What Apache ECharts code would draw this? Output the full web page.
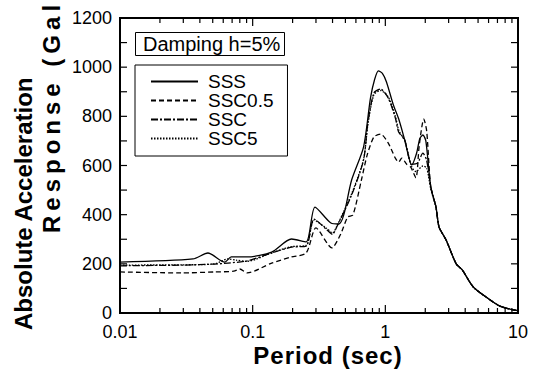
<!DOCTYPE html>
<html>
<head>
<meta charset="utf-8">
<script src="https://cdn.jsdelivr.net/npm/echarts@6/dist/echarts.min.js"></script>
<style>
  html, body { margin: 0; padding: 0; background: #fff; }
  #chart { width: 537px; height: 370px; }
</style>
</head>
<body>
<div id="chart"></div>
<script>
// spectra (period in sec, acceleration in Gal)
var periodsSSS = [0.01, 0.0355, 0.046, 0.0616, 0.069, 0.091, 0.139, 0.196, 0.253, 0.295, 0.389, 0.446, 0.486, 0.557, 0.685, 0.773, 0.83, 0.887, 0.95, 1.02, 1.15, 1.26, 1.4, 1.58, 1.72, 1.82, 1.92, 2.02, 2.2, 2.41, 2.54, 2.87, 3.42, 3.8, 4.6, 6.1, 7.3, 9, 10];
var accelSSS   = [207, 220, 244, 207, 228, 228, 248, 301, 289, 431, 366, 362, 399, 541, 675, 875, 950, 985, 975, 940, 846, 790, 704, 602, 650, 710, 724, 700, 513, 431, 350, 297, 200, 175, 106, 55, 28, 14, 10];

var periodsSSC05 = [0.01, 0.029, 0.0518, 0.072, 0.08, 0.091, 0.139, 0.196, 0.253, 0.3, 0.395, 0.46, 0.52, 0.57, 0.66, 0.73, 0.82, 0.92, 1.05, 1.19, 1.26, 1.33, 1.45, 1.55, 1.7, 1.8, 1.95, 2.05, 2.2, 2.41, 2.54, 2.87, 3.42, 3.8, 4.6, 6.1, 7.3, 9, 10];
var accelSSC05   = [167, 163, 167, 170, 179, 163, 203, 228, 244, 346, 265, 320, 390, 399, 541, 643, 716, 728, 692, 630, 614, 630, 605, 594, 550, 680, 789, 740, 513, 431, 350, 297, 200, 175, 106, 55, 28, 14, 10];

var periodsSSC = [0.01, 0.03, 0.0518, 0.065, 0.091, 0.139, 0.196, 0.253, 0.29, 0.36, 0.4, 0.43, 0.557, 0.685, 0.74, 0.82, 0.92, 1.05, 1.19, 1.26, 1.4, 1.58, 1.75, 1.92, 2.05, 2.2, 2.41, 2.54, 2.87, 3.42, 3.8, 4.6, 6.1, 7.3, 9, 10];
var accelSSC   = [192, 195, 199, 203, 212, 244, 268, 272, 382, 340, 320, 350, 480, 622, 777, 895, 911, 875, 793, 736, 704, 605, 610, 650, 620, 513, 431, 350, 297, 200, 175, 106, 55, 28, 14, 10];

var periodsSSC5 = [0.01, 0.03, 0.0518, 0.065, 0.075, 0.091, 0.139, 0.196, 0.253, 0.29, 0.36, 0.4, 0.43, 0.557, 0.685, 0.74, 0.82, 0.92, 1.05, 1.19, 1.26, 1.4, 1.58, 1.7, 1.92, 2.05, 2.2, 2.41, 2.54, 2.87, 3.42, 3.8, 4.6, 6.1, 7.3, 9, 10];
var accelSSC5   = [195, 196, 200, 220, 215, 210, 245, 270, 275, 378, 345, 325, 352, 485, 625, 770, 888, 905, 880, 800, 745, 700, 595, 575, 598, 590, 505, 428, 350, 297, 200, 175, 106, 55, 28, 14, 10];

var seriesNames = ['SSS', 'SSC0.5', 'SSC', 'SSC5'];
var majorPeriods = [0.01, 0.1, 1, 10];
var minorPeriods = [0.02, 0.03, 0.04, 0.05, 0.06, 0.07, 0.08, 0.09,
                    0.2, 0.3, 0.4, 0.5, 0.6, 0.7, 0.8, 0.9,
                    2, 3, 4, 5, 6, 7, 8, 9];
var accelTicks = [0, 100, 200, 300, 400, 500, 600, 700, 800, 900, 1000, 1100, 1200];

var FONT = '"Liberation Sans", Arial, Helvetica, sans-serif';

function zip(xs, ys) {
    var out = [];
    for (var i = 0; i < xs.length; i++) {
        out.push([xs[i], ys[i]]);
    }
    return out;
}

function column(vals) {
    var out = [];
    for (var i = 0; i < vals.length; i++) {
        out.push([vals[i]]);
    }
    return out;
}

function tickLine(x1, y1, x2, y2) {
    return { type: 'line', shape: { x1: x1, y1: y1, x2: x2, y2: y2 },
             style: { stroke: '#000', lineWidth: 1.2 } };
}

// inward period ticks on the bottom and top edges of the plot
function renderPeriodTick(params, api) {
    var v = api.value(0);
    var len = majorPeriods.indexOf(v) >= 0 ? 8 : 5;
    var cs = params.coordSys;
    var x = api.coord([v, 600])[0];
    var bottom = cs.y + cs.height, top = cs.y;
    return { type: 'group', children: [
        tickLine(x, bottom, x, bottom - len),
        tickLine(x, top, x, top + len)
    ] };
}

// inward acceleration ticks on the left and right edges
function renderAccelTick(params, api) {
    var v = api.value(0);
    var cs = params.coordSys;
    var y = api.coord([1, v])[1];
    var left = cs.x, right = cs.x + cs.width;
    return { type: 'group', children: [
        tickLine(left, y, left + 7, y),
        tickLine(right, y, right - 7, y)
    ] };
}

function lineSeries(name, data, type) {
    return {
        name: name,
        type: 'line',
        data: data,
        showSymbol: false,
        symbol: 'none',
        smooth: 0.25,
        lineStyle: { color: '#000', width: 1.3, type: type },
        itemStyle: { color: '#000' },
        emphasis: { disabled: true }
    };
}

var chart = echarts.init(document.getElementById('chart'), null, { renderer: 'svg' });
chart.setOption({
    animation: false,
    grid: { left: 120, right: 19, top: 18, bottom: 57, show: true,
            borderColor: '#000', borderWidth: 2, backgroundColor: 'transparent' },
    title: {
        text: 'Damping h=5%',
        left: 135, top: 32,
        padding: [2, 4, 2, 8],
        borderColor: '#000', borderWidth: 1,
        textStyle: { color: '#000', fontSize: 20, fontWeight: 'normal', fontFamily: FONT }
    },
    legend: {
        data: seriesNames,
        orient: 'vertical',
        left: 135, top: 65,
        padding: [7, 14, 8, 15],
        borderColor: '#000', borderWidth: 1,
        itemWidth: 47, itemHeight: 14, itemGap: 0,
        selectedMode: false,
        itemStyle: { opacity: 0 },
        textStyle: { color: '#000', fontSize: 19, fontFamily: FONT, padding: [0, 0, 0, 5] }
    },
    xAxis: {
        type: 'log', logBase: 10, min: 0.01, max: 10,
        axisLine: { show: true, onZero: false, lineStyle: { color: '#000', width: 2 } },
        axisTick: { show: false },
        axisLabel: { customValues: majorPeriods, margin: 10, color: '#000', fontSize: 18, fontFamily: FONT,
                     formatter: function(v) { return String(v); } },
        splitLine: { show: false },
        minorTick: { show: false }
    },
    yAxis: {
        type: 'value', min: 0, max: 1200, interval: 100,
        axisLine: { show: true, onZero: false, lineStyle: { color: '#000', width: 2 } },
        axisTick: { show: false },
        axisLabel: { color: '#000', fontSize: 18, margin: 8, fontFamily: FONT,
                     formatter: function(v) { return v % 200 === 0 ? String(v) : ''; } },
        splitLine: { show: false }
    },
    graphic: [{
        type: 'text', x: 23, y: 330, rotation: Math.PI / 2,
        style: { text: 'Absolute Acceleration', fill: '#000', font: 'bold 24px ' + FONT,
                 textAlign: 'left', textVerticalAlign: 'middle' }
    }, {
        type: 'text', x: 51, y: 233, rotation: Math.PI / 2,
        style: { text: 'Response (Gal)', fill: '#000', font: 'bold 24px ' + FONT,
                 textAlign: 'left', textVerticalAlign: 'middle' }
    }, {
        type: 'text', x: 328, y: 355,
        style: { text: 'Period (sec)', fill: '#000', font: 'bold 24px ' + FONT,
                 textAlign: 'center', textVerticalAlign: 'middle' }
    }],
    series: [
        lineSeries('SSS', zip(periodsSSS, accelSSS), 'solid'),
        lineSeries('SSC0.5', zip(periodsSSC05, accelSSC05), [5, 3]),
        lineSeries('SSC', zip(periodsSSC, accelSSC), [7, 2, 2, 2]),
        lineSeries('SSC5', zip(periodsSSC5, accelSSC5), [1.5, 1.5]),
        { type: 'custom', name: 'periodTicks', data: column(majorPeriods.concat(minorPeriods)),
          encode: { x: 0 }, renderItem: renderPeriodTick, clip: false, silent: true, z: 5 },
        { type: 'custom', name: 'accelTicks', data: column(accelTicks),
          encode: { y: 0 }, renderItem: renderAccelTick, clip: false, silent: true, z: 5 }
    ]
});

// the second title line is set wider in the figure
var texts = document.querySelectorAll('#chart text');
for (var i = 0; i < texts.length; i++) {
    if (texts[i].textContent === 'Response (Gal)') {
        texts[i].setAttribute('letter-spacing', '5');
    } else if (texts[i].textContent === 'Period (sec)') {
        texts[i].setAttribute('letter-spacing', '1');
    }
}
</script>
</body>
</html>
